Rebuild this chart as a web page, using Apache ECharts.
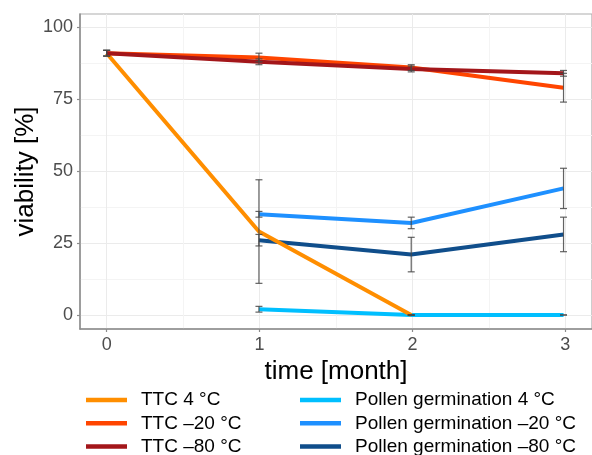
<!DOCTYPE html>
<html>
<head>
<meta charset="utf-8">
<script src="https://cdn.jsdelivr.net/npm/echarts@6/dist/echarts.min.js"></script>
<style>
  html, body { margin: 0; padding: 0; background: #fff; }
  #chart { width: 592px; height: 455px; }
</style>
</head>
<body>
<div id="chart"></div>
<script>
// months on the x axis
const months = [0, 1, 2, 3];
const monthTicks = ['0', '1', '2', '3'];
const viabilityTicks = [0, 25, 50, 75, 100];

// mean viability [%] per month (null = not measured)
const ttc4 = [91, 29, 0, null];
const ttc20 = [91, 89.5, 86, 79];
const ttc80 = [91, 88, 85.5, 84];
const pollen4 = [null, 2, 0, 0];
const pollen20 = [null, 35, 32, 44];
const pollen80 = [null, 26, 21, 28];

// error (+/-) per month
const ttc4Err = [1, 18, 0, null];
const ttc20Err = [1, 1.5, 1, 5];
const ttc80Err = [1, 1, 1, 1];
const pollen4Err = [null, 1, 0, 0];
const pollen20Err = [null, 1, 2, 7];
const pollen80Err = [null, 2, 6, 6];

const seriesNames = [
  'TTC 4 °C', 'TTC –20 °C', 'TTC –80 °C',
  'Pollen germination 4 °C', 'Pollen germination –20 °C', 'Pollen germination –80 °C',
];
const seriesValues = [ttc4, ttc20, ttc80, pollen4, pollen20, pollen80];
const seriesErrors = [ttc4Err, ttc20Err, ttc80Err, pollen4Err, pollen20Err, pollen80Err];
const seriesColors = ['#FF8E00', '#FF4500', '#A3161A', '#00BFFF', '#1E90FF', '#104E8B'];

const FONT = 'Liberation Sans, Arial, sans-serif';

const toPoints = vals => months.map((m, i) => [m, vals[i]]).filter(p => p[1] != null);

// error bar items [x, low, high]
const errItems = [];
seriesValues.forEach((vals, s) => {
  months.forEach((m, i) => {
    if (vals[i] == null || seriesErrors[s][i] == null) return;
    errItems.push([m, vals[i] - seriesErrors[s][i], vals[i] + seriesErrors[s][i]]);
  });
});

const lineSeries = seriesNames.map((name, s) => ({
  name,
  type: 'line',
  xAxisIndex: 0,
  yAxisIndex: 0,
  data: toPoints(seriesValues[s]),
  color: seriesColors[s],
  showSymbol: false,
  symbol: 'none',
  lineStyle: { width: 4, color: seriesColors[s], cap: 'butt' },
  // pollen first, TTC drawn over it
  z: s < 3 ? 4 : 3,
}));

const legendBase = {
  orient: 'vertical', top: 390, height: 90, padding: 0,
  icon: 'rect', itemWidth: 41, itemHeight: 4.5, itemGap: 3.3,
  textStyle: { fontSize: 19, color: '#000', lineHeight: 20, padding: [0, 0, 0, 9], fontFamily: FONT },
};

const chart = echarts.init(document.getElementById('chart'), null, { renderer: 'canvas' });

const option = {
  animation: false,
  backgroundColor: '#fff',
  textStyle: { fontFamily: FONT },
  grid: [
    // panel (data)
    { left: 80, right: -2, top: 14, bottom: 126, show: true, borderColor: '#adadad', borderWidth: 1.2 },
    // horizontal grid + y labels
    { left: 80, right: -2, top: 27.3, bottom: 140 },
    // vertical grid + x labels
    { left: 106.7, right: 26.7, top: 14, bottom: 126 },
  ],
  xAxis: [
    {
      gridIndex: 0, type: 'value', min: -0.175, max: 3.187,
      axisLine: { show: true, onZero: false, lineStyle: { color: '#8c8c8c', width: 1.5 } },
      axisTick: { show: false }, axisLabel: { show: false }, splitLine: { show: false },
    },
    { gridIndex: 1, type: 'value', min: 0, max: 1, show: false },
    {
      gridIndex: 2, type: 'value', min: 0, max: 3, interval: 1,
      name: 'time [month]', nameLocation: 'middle', nameGap: 26,
      nameTextStyle: { fontSize: 26, color: '#000', fontFamily: FONT },
      axisLine: { show: false },
      axisTick: { show: true, length: 3, lineStyle: { color: '#8c8c8c', width: 1.2 } },
      axisLabel: {
        fontSize: 18, color: '#4d4d4d', margin: 7, fontFamily: FONT,
        formatter: v => monthTicks[months.indexOf(v)] ?? '',
      },
      splitLine: { show: true, lineStyle: { color: '#ebebeb', width: 1 } },
      minorTick: { show: false, splitNumber: 2 },
      minorSplitLine: { show: true, lineStyle: { color: '#f4f4f4', width: 1 } },
    },
  ],
  yAxis: [
    {
      gridIndex: 0, type: 'value', min: -4.87, max: 104.62,
      name: 'viability [%]', nameLocation: 'middle', nameGap: 41, nameRotate: 90,
      nameTextStyle: { fontSize: 26, color: '#000', fontFamily: FONT },
      axisLine: { show: true, onZero: false, lineStyle: { color: '#8c8c8c', width: 1.5 } },
      axisTick: { show: false }, axisLabel: { show: false }, splitLine: { show: false },
    },
    {
      gridIndex: 1, type: 'value', min: 0, max: 100, interval: 25,
      axisLine: { show: false },
      axisTick: { show: true, length: 3, lineStyle: { color: '#8c8c8c', width: 1.2 } },
      axisLabel: {
        fontSize: 18, color: '#4d4d4d', margin: 7, fontFamily: FONT,
        formatter: v => (viabilityTicks.includes(v) ? String(v) : ''),
      },
      splitLine: { show: true, lineStyle: { color: '#ebebeb', width: 1 } },
      minorTick: { show: false, splitNumber: 2 },
      minorSplitLine: { show: true, lineStyle: { color: '#f4f4f4', width: 1 } },
    },
    { gridIndex: 2, type: 'value', min: 0, max: 1, show: false },
  ],
  legend: [
    Object.assign({ data: seriesNames.slice(0, 3), left: 86 }, legendBase),
    Object.assign({ data: seriesNames.slice(3), left: 300 }, legendBase),
  ],
  series: [
    ...lineSeries,
    {
      name: 'error',
      type: 'custom',
      xAxisIndex: 0,
      yAxisIndex: 0,
      z: 6,
      data: errItems,
      encode: { x: 0, y: [1, 2] },
      renderItem: (params, api) => {
        const x = api.value(0);
        const lo = api.coord([x, api.value(1)]);
        const hi = api.coord([x, api.value(2)]);
        const hw = 3.5;
        const style = { stroke: 'rgba(70,70,70,0.85)', lineWidth: 1.2 };
        return {
          type: 'group',
          children: [
            { type: 'line', shape: { x1: lo[0], y1: lo[1], x2: hi[0], y2: hi[1] }, style },
            { type: 'line', shape: { x1: lo[0] - hw, y1: lo[1], x2: lo[0] + hw, y2: lo[1] }, style },
            { type: 'line', shape: { x1: hi[0] - hw, y1: hi[1], x2: hi[0] + hw, y2: hi[1] }, style },
          ],
        };
      },
    },
  ],
};

chart.setOption(option);
</script>
</body>
</html>
